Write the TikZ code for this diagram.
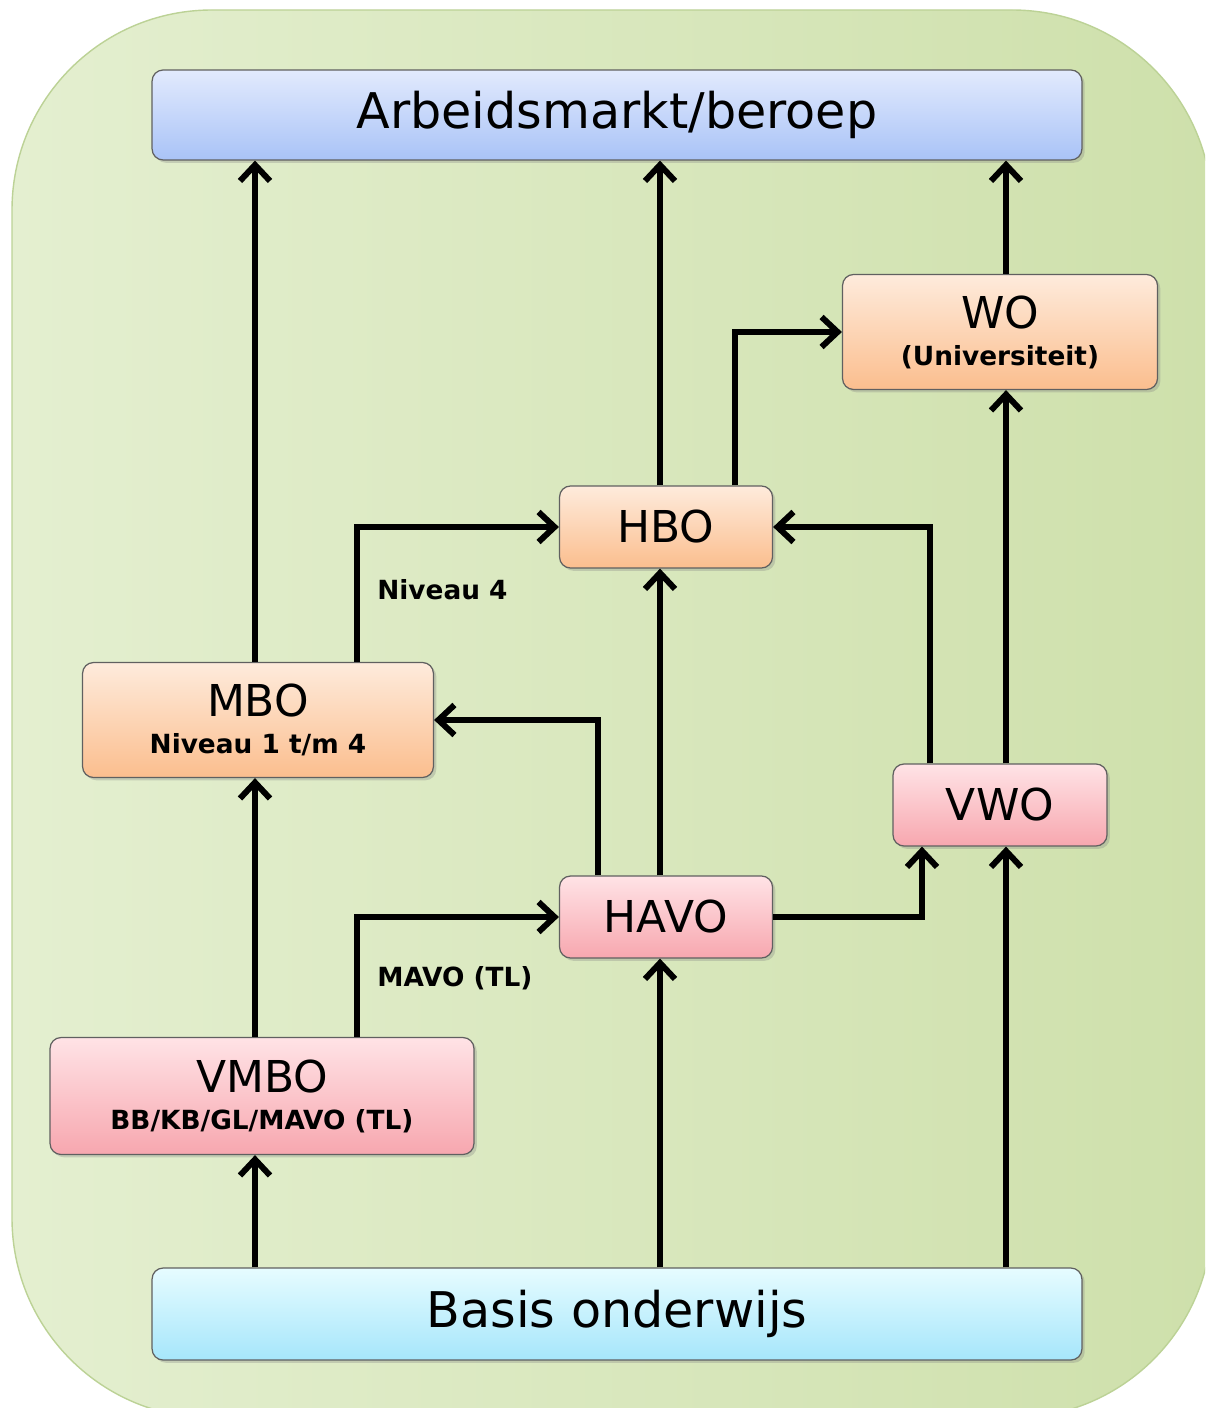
\documentclass[tikz,border=0pt]{standalone}
\usepackage{fontspec}
\setmainfont{DejaVu Sans}
\usetikzlibrary{arrows.meta,shadows}

\definecolor{bgL}{HTML}{E4EFD0}
\definecolor{bgM}{HTML}{F2F6E6}
\definecolor{bgR}{HTML}{CEE0AB}
\definecolor{bgEdge}{HTML}{BCD296}
\definecolor{blueTop}{HTML}{E2EAFD}
\definecolor{blueBot}{HTML}{A9C3F7}
\definecolor{cyanTop}{HTML}{E6FCFF}
\definecolor{cyanBot}{HTML}{A6E6FB}
\definecolor{orTop}{HTML}{FEEBDC}
\definecolor{orBot}{HTML}{FBBE8E}
\definecolor{pkTop}{HTML}{FFE3E6}
\definecolor{pkBot}{HTML}{F7A7AF}

\newcommand{\BigTxt}{\fontsize{25}{27}\selectfont}
\newcommand{\SubTxt}{\fontsize{15}{18}\selectfont\bfseries}

\begin{document}
\begin{tikzpicture}[x=0.02cm, y=-0.02cm,
box/.style={rectangle, rounded corners=0.22cm, draw=gray!75!black, line width=0.7pt,
  align=center, inner sep=0pt,
  drop shadow={opacity=0.3, shadow xshift=1.6pt, shadow yshift=-1.6pt}},
wide/.style={box, minimum width=18.6cm, minimum height=1.8cm, font=\fontsize{28}{30}\selectfont},
study/.style={box, top color=orTop, bottom color=orBot},
school/.style={box, top color=pkTop, bottom color=pkBot},
arr/.style={line width=3pt, -{Straight Barb[length=0.32cm, width=0.6cm, line width=3.4pt]}},
lbl/.style={anchor=west, inner sep=0pt, font=\SubTxt},
]
\useasboundingbox (0,0) rectangle (1205,1408);

%%%%%%%%%%%%%%%% ACHTERGROND %%%%%%%%%%%%%%%%
\begin{scope}
\clip (0,0) rectangle (1205,1408);
\shade[left color=bgL, middle color=bgM, right color=bgR, draw=bgEdge, line width=0.8pt,
  rounded corners=4cm] (12,10) rectangle (1212,1418);
\end{scope}

%%%%%%%%%%%%%%%% KOLOMMEN EN RIJEN %%%%%%%%%%%%%%%%
\coordinate (colA) at (255,0);
\coordinate (colB) at (357,0);
\coordinate (colC) at (598,0);
\coordinate (colD) at (660,0);
\coordinate (colE) at (735,0);
\coordinate (colF) at (922,0);
\coordinate (colG) at (930,0);
\coordinate (colH) at (1006,0);

%%%%%%%%%%%%%%%% BLOKKEN %%%%%%%%%%%%%%%%
\node[wide, top color=blueTop, bottom color=blueBot] (arbeid) at (617,115) {Arbeidsmarkt/beroep};
\node[wide, top color=cyanTop, bottom color=cyanBot, minimum height=1.84cm] (basis) at (617,1314) {Basis onderwijs};

\node[study, minimum width=6.3cm, minimum height=2.3cm] (wo) at (1000,332)
  {\BigTxt WO\\[9pt]\SubTxt (Universiteit)};
\node[study, minimum width=4.26cm, minimum height=1.64cm] (hbo) at (666,527) {\BigTxt HBO};
\node[study, minimum width=7.02cm, minimum height=2.3cm] (mbo) at (258,720)
  {\BigTxt MBO\\[9pt]\SubTxt Niveau 1 t/m 4};

\node[school, minimum width=4.28cm, minimum height=1.64cm] (vwo) at (1000,805) {\BigTxt VWO};
\node[school, minimum width=4.26cm, minimum height=1.64cm] (havo) at (666,917) {\BigTxt HAVO};
\node[school, minimum width=8.48cm, minimum height=2.34cm] (vmbo) at (262,1096)
  {\BigTxt VMBO\\[9pt]\SubTxt BB/KB/GL/MAVO (TL)};

%%%%%%%%%%%%%%%% PIJLEN %%%%%%%%%%%%%%%%
\draw[arr] (mbo.north -| colA) -- (arbeid.south -| colA);
\draw[arr] (hbo.north -| colD) -- (arbeid.south -| colD);
\draw[arr] (wo.north -| colH) -- (arbeid.south -| colH);
\draw[arr] (hbo.north -| colE) |- (wo.west);
\draw[arr] (vwo.north -| colH) -- (wo.south -| colH);
\draw[arr] (vwo.north -| colG) |- (hbo.east);
\draw[arr] (mbo.north -| colB) |- (hbo.west);
\draw[arr] (havo.north -| colD) -- (hbo.south -| colD);
\draw[arr] (havo.north -| colC) |- (mbo.east);
\draw[arr] (havo.east) -| (vwo.south -| colF);
\draw[arr] (vmbo.north -| colA) -- (mbo.south -| colA);
\draw[arr] (vmbo.north -| colB) |- (havo.west);
\draw[arr] (basis.north -| colA) -- (vmbo.south -| colA);
\draw[arr] (basis.north -| colD) -- (havo.south -| colD);
\draw[arr] (basis.north -| colH) -- (vwo.south -| colH);

%%%%%%%%%%%%%%%% LABELS %%%%%%%%%%%%%%%%
\node[lbl] (niv4) at (377,590) {Niveau 4};
\node[lbl] (mavotl) at (377,978) {MAVO (TL)};
\end{tikzpicture}
\end{document}
